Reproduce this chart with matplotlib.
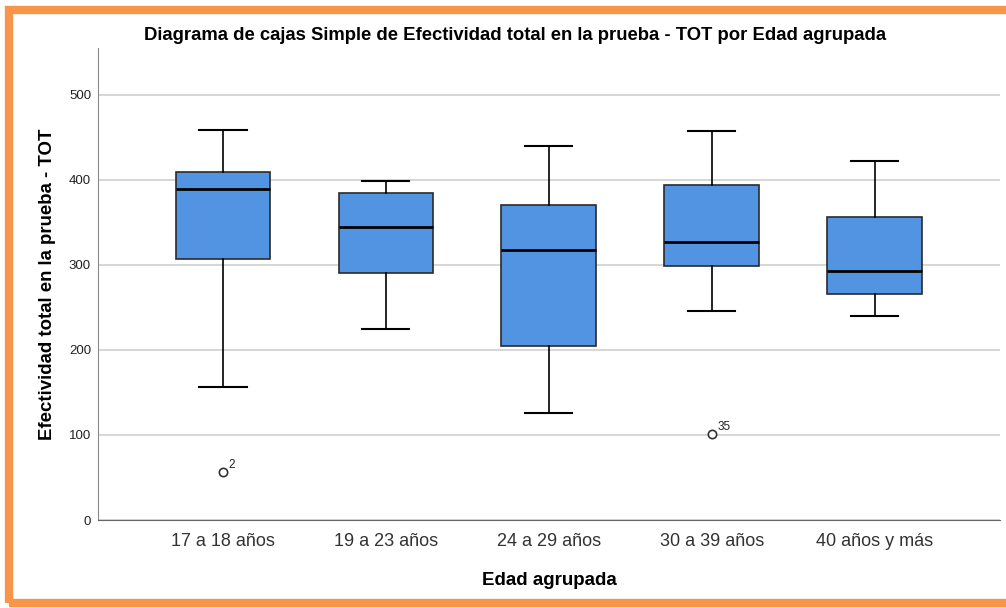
import matplotlib
matplotlib.use('Agg')
import matplotlib.pyplot as plt
from matplotlib.patches import Rectangle

plt.rcParams['font.family'] = ['Liberation Sans', 'DejaVu Sans']

# Data
groups = ['17 a 18 años', '19 a 23 años', '24 a 29 años', '30 a 39 años', '40 años y más']
whislo = [156, 225, 126, 246, 240]
q1 = [307, 291, 205, 299, 266]
med = [389, 344, 318, 327, 293]
q3 = [409, 384, 371, 394, 356]
whishi = [459, 399, 440, 458, 422]
outliers = [[56], [], [], [101], []]
outlier_ids = [['2'], [], [], ['35'], []]

stats = []
for i in range(len(groups)):
    stats.append({'label': groups[i], 'whislo': whislo[i], 'q1': q1[i], 'med': med[i],
                  'q3': q3[i], 'whishi': whishi[i], 'fliers': outliers[i]})

fig = plt.figure(figsize=(10.06, 6.08), dpi=100)
ax = fig.add_axes([0.0974, 0.1447, 0.8966, 0.7763])

ax.bxp(stats, positions=range(len(groups)), widths=0.58, patch_artist=True,
       boxprops=dict(facecolor='#5294E2', edgecolor='#2b2b2b', linewidth=1.2),
       medianprops=dict(color='black', linewidth=2),
       whiskerprops=dict(color='black', linewidth=1.2),
       capprops=dict(color='black', linewidth=1.5),
       capwidths=0.29,
       flierprops=dict(marker='o', markersize=6, markerfacecolor='white',
                       markeredgecolor='#333333', markeredgewidth=1.2))

# outlier case labels
for i, (vals, ids) in enumerate(zip(outliers, outlier_ids)):
    for v, s in zip(vals, ids):
        ax.annotate(s, (i, v), xytext=(4, 3), textcoords='offset points',
                    fontsize=8.5, color='#222222')

ax.set_xlim(-0.767, 4.77)
ax.set_ylim(0, 555)
ax.set_yticks([0, 100, 200, 300, 400, 500])
ax.yaxis.grid(True, color='#d0d0d0', linewidth=1.2)
ax.set_axisbelow(True)
for s in ['top', 'right']:
    ax.spines[s].set_visible(False)
ax.spines['left'].set_color('#888888')
ax.spines['bottom'].set_color('#666666')
ax.tick_params(axis='both', length=0)
ax.tick_params(axis='y', labelsize=9.5, labelcolor='#222222', pad=5)
ax.tick_params(axis='x', labelsize=13, labelcolor='#333333', pad=9)

ax.set_xlabel('Edad agrupada', fontsize=13.5, fontweight='bold', labelpad=16)
ax.set_ylabel('Efectividad total en la prueba - TOT', fontsize=13.4, fontweight='bold', labelpad=9)
fig.suptitle('Diagrama de cajas Simple de Efectividad total en la prueba - TOT por Edad agrupada',
             x=0.512, y=0.942, va='center', fontsize=13.3, fontweight='bold')

# orange frame around the figure (cut off on the right, as in the reference)
fig.patches.append(Rectangle((0.009, 0.0075), 1.1, 0.976, transform=fig.transFigure,
                             fill=False, edgecolor='#F7964A', linewidth=6))

fig.savefig('out.png', dpi=100)
